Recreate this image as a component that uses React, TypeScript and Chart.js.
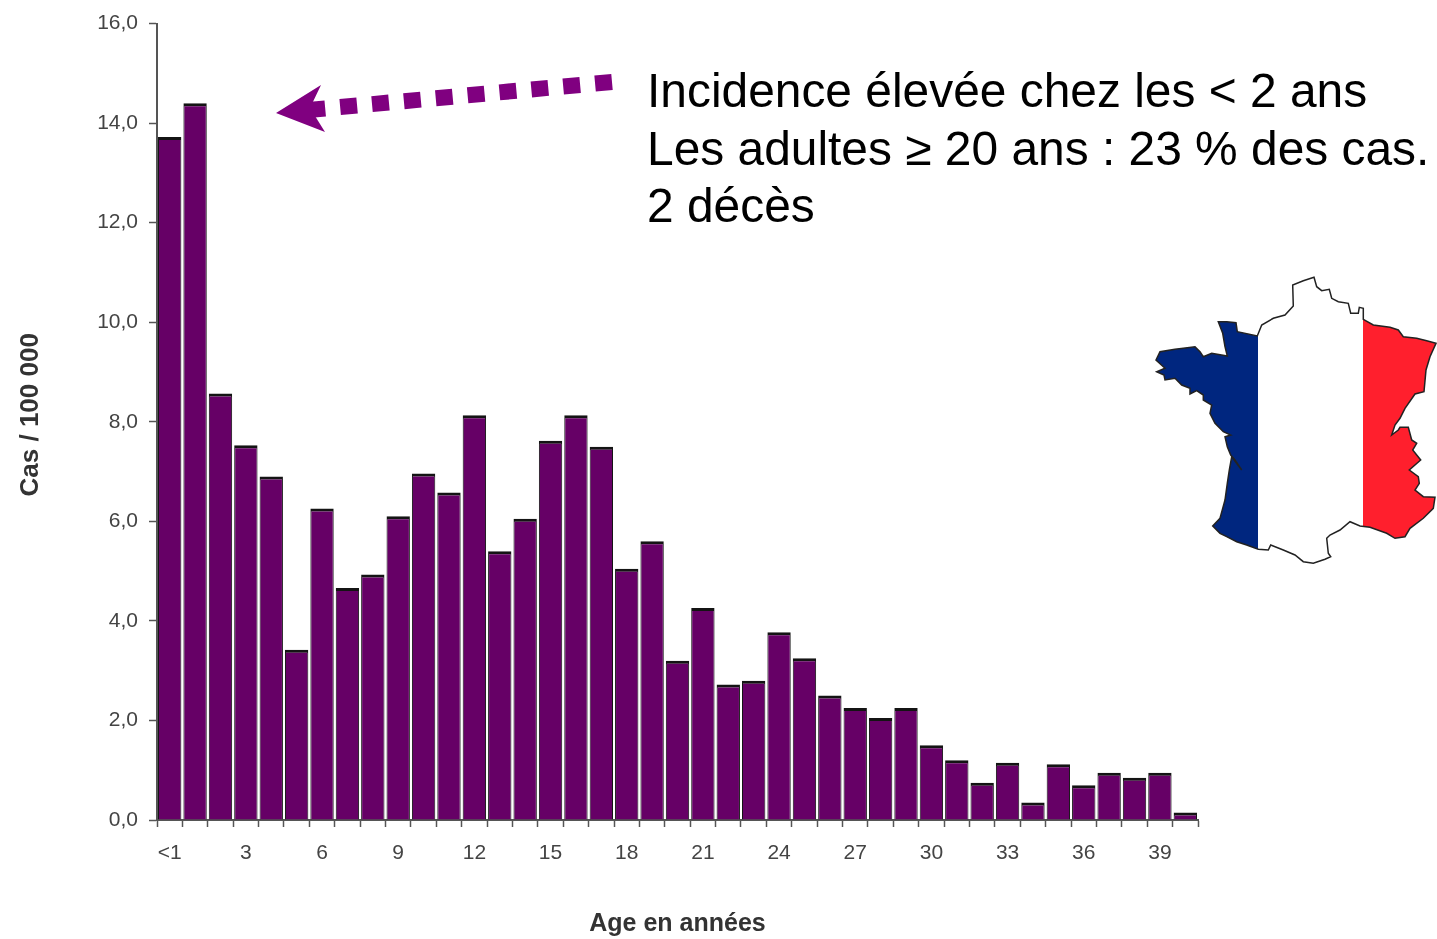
import React, { useEffect, useRef } from "react";
import { Chart, registerables } from "chart.js";

Chart.register(...registerables);

const ageLabels: string[] = ["<1","1","2","3","4","5","6","7","8","9","10","11","12","13","14","15","16","17","18","19","20","21","22","23","24","25","26","27","28","29","30","31","32","33","34","35","36","37","38","39","40"];
const incidence: number[] = [13.72,14.4,8.57,7.53,6.9,3.42,6.26,4.66,4.93,6.1,6.96,6.58,8.13,5.4,6.05,7.62,8.13,7.5,5.05,5.6,3.2,4.26,2.72,2.8,3.77,3.25,2.5,2.25,2.05,2.25,1.5,1.2,0.75,1.15,0.35,1.12,0.7,0.95,0.85,0.95,0.15];
const notes: string[] = ["Incidence élevée chez les < 2 ans", "Les adultes ≥ 20 ans : 23 % des cas.", "2 décès"];
const yTitle = "Cas / 100 000";
const xTitle = "Age en années";

const FONT = '"Liberation Sans", Arial, sans-serif';
const francePath = [[522,22],[530,50],[545,62],[568,58],[575,85],[595,95],[625,100],[632,130],[655,130],[658,112],[670,115],[670,148],[700,165],[750,172],[775,180],[790,200],[830,205],[860,212],[888,220],[870,260],[858,300],[852,365],[825,372],[795,415],[780,445],[765,465],[755,495],[775,480],[780,472],[805,472],[815,510],[830,520],[818,540],[842,570],[808,600],[835,620],[838,640],[825,660],[850,680],[885,682],[880,715],[850,745],[810,775],[795,800],[765,805],[740,790],[690,772],[660,768],[630,755],[600,780],[570,795],[560,805],[565,850],[572,860],[555,868],[520,880],[490,875],[465,855],[430,840],[392,825],[385,840],[355,838],[320,825],[290,815],[260,800],[240,790],[218,768],[240,745],[255,690],[262,640],[268,600],[275,560],[305,600],[285,570],[272,555],[262,530],[255,500],[272,495],[250,485],[225,460],[210,430],[215,405],[190,390],[190,375],[170,362],[150,372],[150,355],[125,345],[105,325],[75,330],[72,315],[50,305],[75,295],[48,270],[60,245],[105,238],[130,235],[165,230],[180,245],[190,260],[215,250],[262,258],[255,230],[248,190],[235,155],[260,155],[288,158],[292,185],[352,198],[365,165],[400,145],[435,135],[460,108],[458,45],[490,32]]
  .map(([x, y]) => `${(1140 + x / 3).toFixed(1)},${(270 + y / 3).toFixed(1)}`).join(" ");

export default function App() {
  const ref = useRef<HTMLCanvasElement>(null);
  useEffect(() => {
    const shiftYTitle = {
      id: "shiftYTitle",
      afterLayout(chart: any) {
        const s = chart.scales.y;
        const proto = Object.getPrototypeOf(s);
        s.drawTitle = function () {
          this.bottom -= 14;
          proto.drawTitle.call(this);
          this.bottom += 14;
        };
      },
    };
    const chart = new Chart(ref.current!, {
      type: "bar",
      data: {
        labels: ageLabels,
        datasets: [{
          data: incidence,
          backgroundColor: "#660066",
          borderColor: "#141414",
          borderWidth: { top: 3, left: 1, right: 1, bottom: 0 },
          borderSkipped: "bottom",
          barPercentage: 0.92,
          categoryPercentage: 1,
        }],
      },
      plugins: [shiftYTitle],
      options: {
        responsive: false,
        animation: false,
        layout: { padding: { top: 22, right: 239, left: 0, bottom: 0 } },
        plugins: { legend: { display: false }, tooltip: { enabled: false } },
        scales: {
          x: {
            afterFit(s: any) { s.height = 119; },
            grid: { offset: true, drawOnChartArea: false, color: "#555", tickLength: 7, tickWidth: 1.5 },
            border: { color: "#555", width: 2 },
            ticks: {
              autoSkip: false, maxRotation: 0, minRotation: 0, padding: 14, color: "#444",
              font: { family: FONT, size: 21 },
              callback(_v: any, i: number) { return i % 3 === 0 ? ageLabels[i] : ""; },
            },
            title: { display: true, text: xTitle, color: "#333", font: { family: FONT, size: 25, weight: "bold" }, padding: { top: 0, bottom: 0 } },
          },
          y: {
            min: 0, max: 16,
            afterFit(s: any) { s.width = 157; },
            grid: { drawOnChartArea: false, color: "#555", tickLength: 8, tickWidth: 1.5 },
            border: { color: "#555", width: 2 },
            ticks: {
              stepSize: 2, padding: 11, color: "#444",
              font: { family: FONT, size: 21 },
              callback(v: any) { return Number(v).toFixed(1).replace(".", ","); },
            },
            title: { display: true, text: yTitle, color: "#333", font: { family: FONT, size: 26, weight: "bold" }, padding: { top: 15, bottom: 0 } },
          },
        },
      },
    } as any);
    return () => chart.destroy();
  }, []);

  return (
    <div style={{ position: "absolute", left: 0, top: 0, width: 1437, height: 939, overflow: "hidden", background: "#fff" }}>
      <canvas ref={ref} width={1437} height={939} style={{ position: "absolute", left: 0, top: 0, filter: "blur(0.6px)" }} />
      {notes.map((t, i) => (
        <div key={i} style={{ position: "absolute", left: 647, top: 62 + i * 57.5, font: `47.9px ${FONT}`, lineHeight: "57px", color: "#000", whiteSpace: "nowrap" }}>{t}</div>
      ))}
      <svg width={1437} height={939} style={{ position: "absolute", left: 0, top: 0 }}>
        <defs><clipPath id="fr"><polygon points={francePath} /></clipPath></defs>
        <line x1={612} y1={82} x2={308} y2={110} stroke="#800080" strokeWidth={16} strokeDasharray="17 15" />
        <polygon points="276,113 321,85 310,108 325,132" fill="#800080" />
        <g clipPath="url(#fr)">
          <rect x={1140} y={270} width={118} height={300} fill="#00267f" />
          <rect x={1258} y={270} width={105} height={300} fill="#fff" />
          <rect x={1363} y={270} width={74} height={300} fill="#ff1f2d" />
        </g>
        <polygon points={francePath} fill="none" stroke="#222" strokeWidth={1.5} />
      </svg>
    </div>
  );
}
